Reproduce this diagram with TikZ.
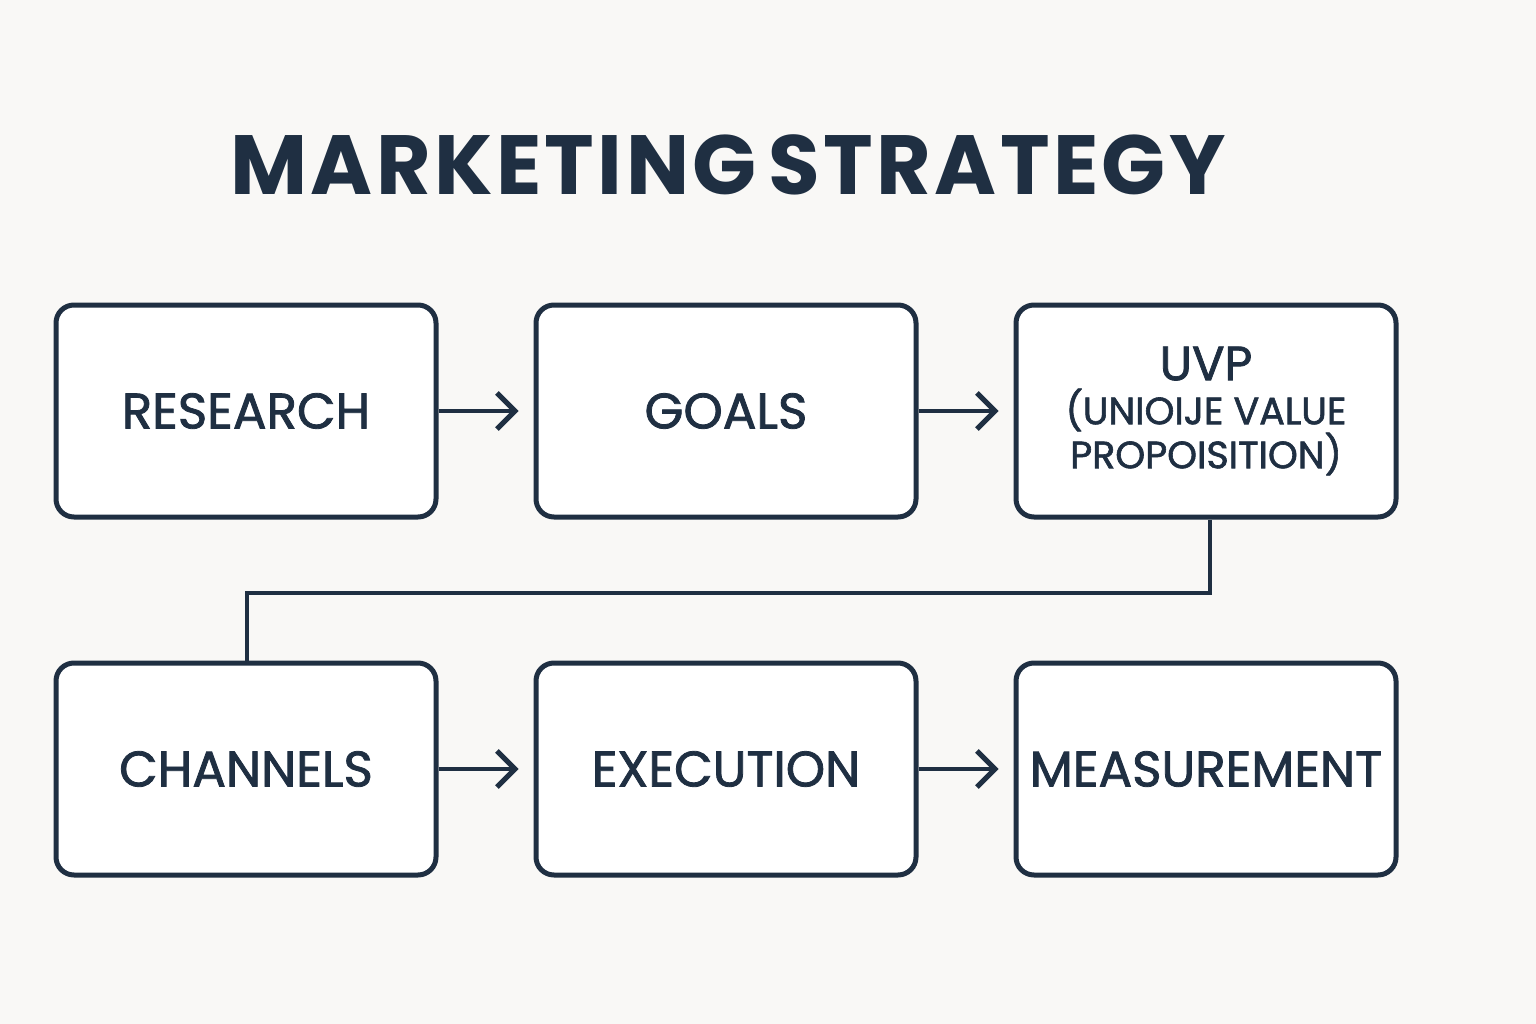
\documentclass[tikz,border=0pt]{standalone}
\usepackage{fontspec}
\setmainfont{Poppins}
\newfontfamily\boxfont[FakeBold=1.6]{Poppins}
\newfontfamily\titlefont[LetterSpace=4]{Poppins}
\usetikzlibrary{arrows.meta}
\definecolor{ink}{HTML}{1F2F42}
\definecolor{bg}{HTML}{F9F8F6}
\begin{document}
\begin{tikzpicture}[x=1pt,y=-1pt,
  box/.style={draw=ink,line width=5pt,rounded corners=18pt,fill=white,minimum width=380pt,minimum height=212pt,inner sep=0pt,text=ink,font=\boxfont\fontsize{50}{58}\selectfont,align=center},
  link/.style={draw=ink,line width=4.5pt},
  arr/.style={link,-{Straight Barb[length=18pt,width=36pt,line width=5pt]}}]
\fill[bg] (0,0) rectangle (1536,1024);
\node[text=ink,font=\titlefont\fontsize{84}{100}\selectfont\bfseries] (title) at (728,165) {MARKETING\hspace{12pt}STRATEGY};
\node[box] (res) at (246,411) {RESEARCH};
\node[box] (goa) at (726,411) {GOALS};
\node[box,font=\boxfont\fontsize{38}{44}\selectfont] (uvp) at (1206,411) {{\fontsize{48}{52}\selectfont UVP}\\(UNIOIJE VALUE\\PROPOISITION)};
\node[box] (cha) at (246,769) {CHANNELS};
\node[box] (exe) at (726,769) {EXECUTION};
\node[box] (mea) at (1206,769) {MEASUREMENT};
\draw[arr] (res.east) -- ++(80,0);
\draw[arr] (goa.east) -- ++(80,0);
\draw[arr] (cha.east) -- ++(80,0);
\draw[arr] (exe.east) -- ++(80,0);
\coordinate (c1) at (1210,593);
\coordinate (c2) at (247,593);
\draw[link] (uvp.south -| c1) -- (c1) -- (c2) -- (c2 |- cha.north);
\end{tikzpicture}
\end{document}
